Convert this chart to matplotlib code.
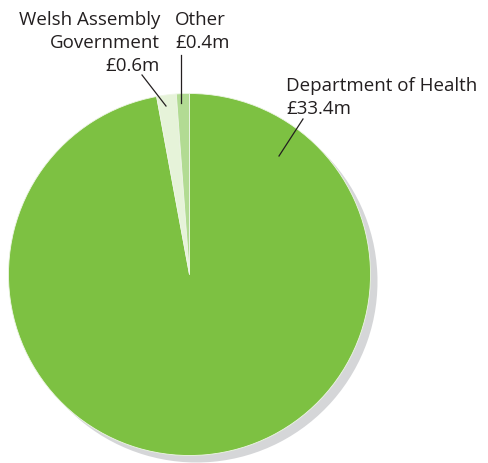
import matplotlib.pyplot as plt

# funding sources (£m)
sources = ["Department of Health", "Welsh Assembly\nGovernment", "Other"]
amounts = [33.4, 0.6, 0.4]
colours = ["#7dc142", "#e6f3d9", "#b2db93"]

W, H = 488, 464
cx, cy, r = 189.5, H - 275.5, 181


def main():
    fig = plt.figure(figsize=(W / 100, H / 100), dpi=100)
    ax = fig.add_axes([0, 0, 1, 1])

    # grey drop shadow, same pie shifted down-right
    ax.pie(amounts, startangle=90, counterclock=False, radius=r,
           center=(cx + 7, cy - 7), colors=["#d5d6d8"] * len(amounts),
           wedgeprops=dict(linewidth=0))
    ax.pie(amounts, startangle=90, counterclock=False, radius=r,
           center=(cx, cy), colors=colours,
           wedgeprops=dict(linewidth=0.6, edgecolor="#eef6e6"))

    font = dict(family="Open Sans", fontsize=13.5, color="#231f20",
                linespacing=1.36)
    labels = [f"{s}\n£{a}m" for s, a in zip(sources, amounts)]

    ax.text(286, H - 77, labels[0], ha="left", va="top", **font)
    ax.text(160, H - 11, labels[1], ha="right", va="top", **font)
    ax.text(175, H - 11, labels[2], ha="left", va="top", **font)

    # leader lines
    line = dict(color="#231f20", lw=0.9)
    ax.plot([303, 279], [H - 120, H - 157], **line)
    ax.plot([142, 166], [H - 76, H - 107], **line)
    ax.plot([181, 181], [H - 56, H - 104], **line)

    ax.set_xlim(0, W)
    ax.set_ylim(0, H)
    ax.set_aspect("equal")
    ax.axis("off")
    fig.savefig("out.png", dpi=100)


if __name__ == "__main__":
    main()
